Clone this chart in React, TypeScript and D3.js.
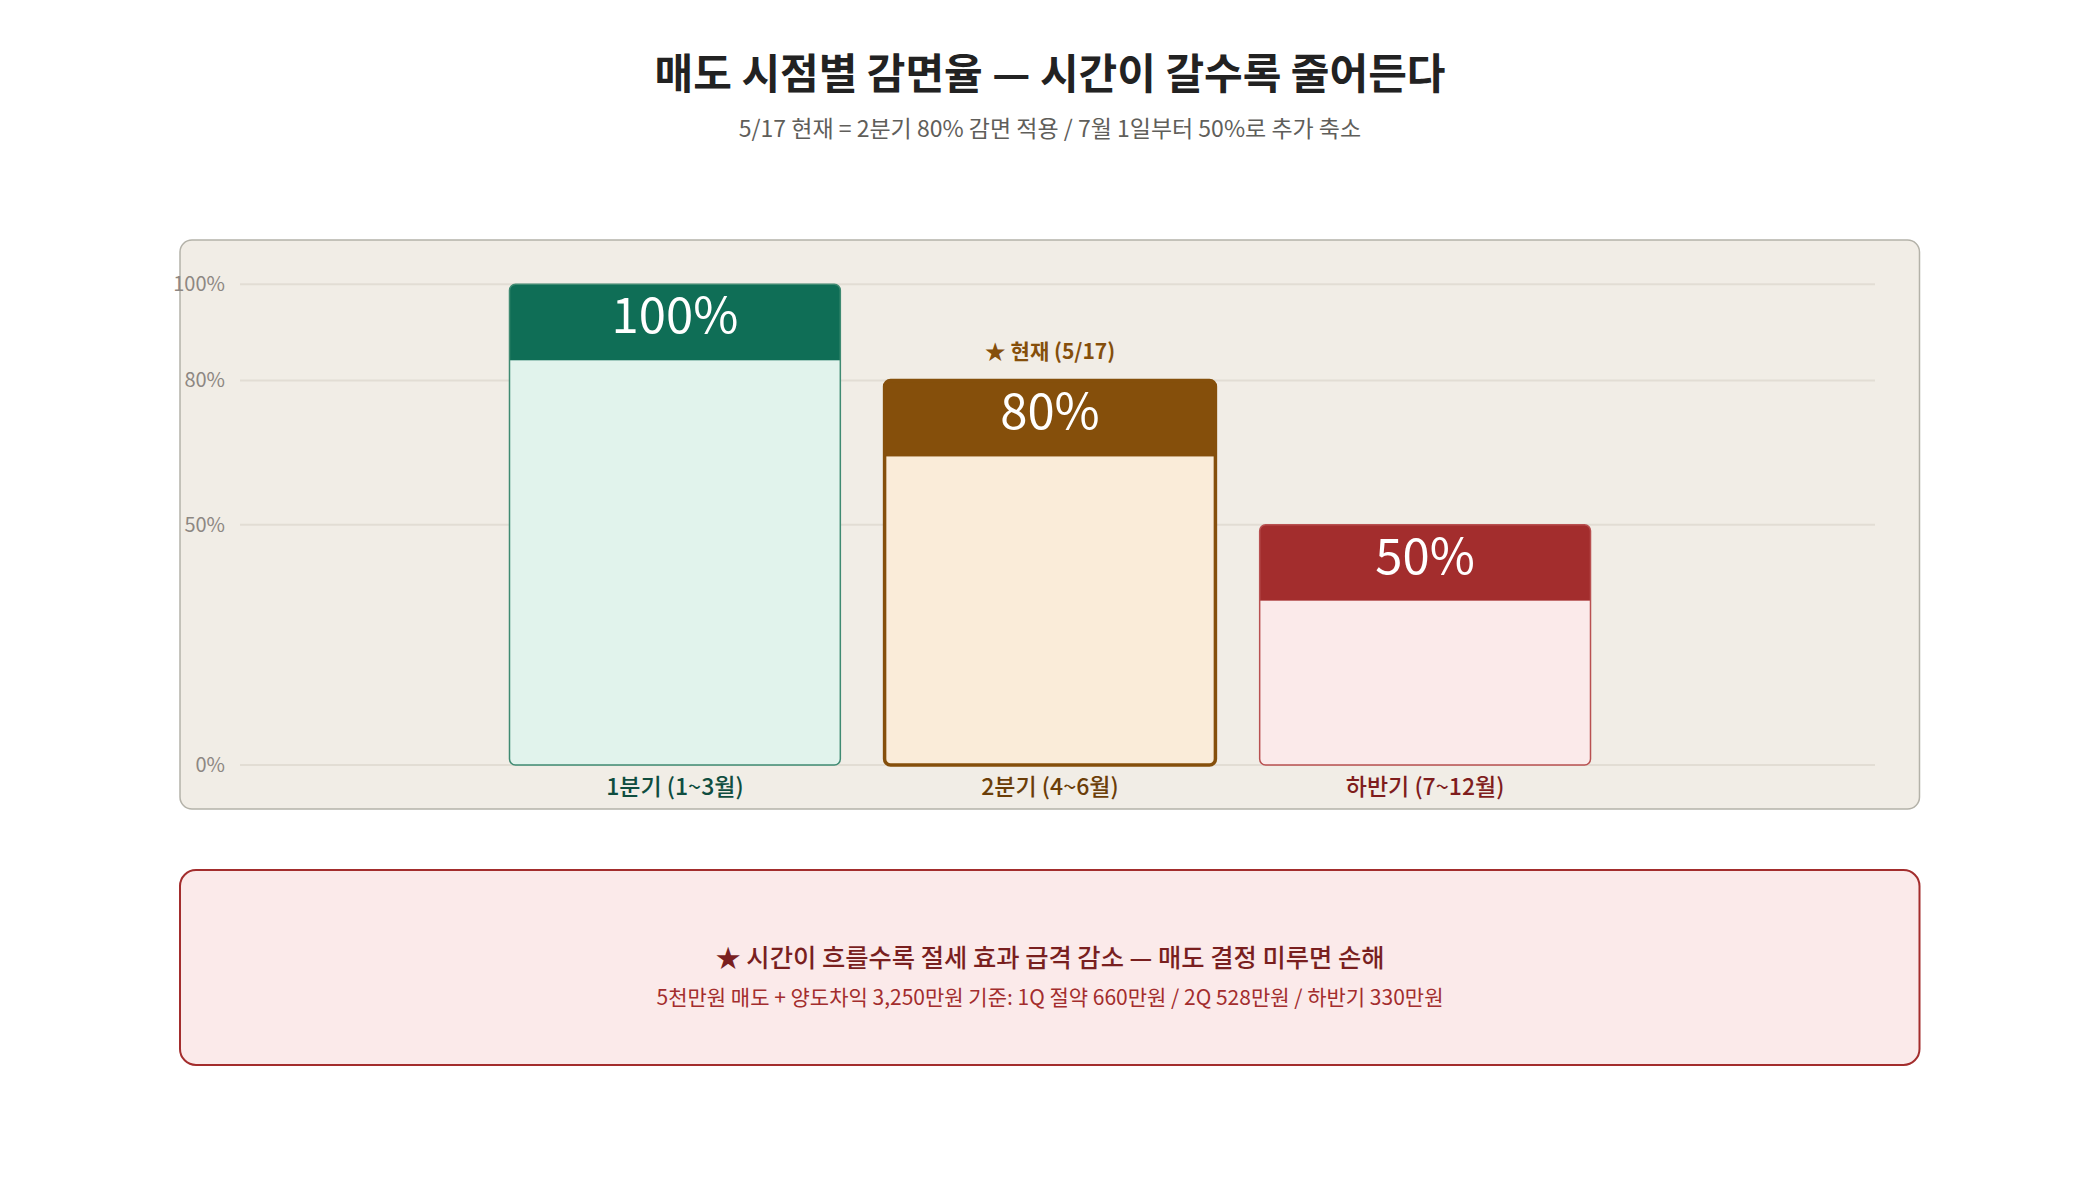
import React from "react";
import * as d3 from "d3";

const categories = ["1분기 (1~3월)", "2분기 (4~6월)", "하반기 (7~12월)"];
const rates = [100, 80, 50];
const rateLabels = ["100%", "80%", "50%"];
const yTicks = [0, 50, 80, 100];
const headerColors = ["#0f6e56", "#854f0b", "#a32d2d"];
const bodyColors = ["#e1f3ec", "#faecd9", "#fbeaea"];
const strokeColors = ["#3f8a72", "#854f0b", "#b85050"];
const strokeWidths = [1.5, 3.5, 1.5];
const labelColors = ["#0f4d3f", "#6b3e08", "#7f1d1d"];

const title = "매도 시점별 감면율 — 시간이 갈수록 줄어든다";
const subtitle = "5/17 현재 = 2분기 80% 감면 적용 / 7월 1일부터 50%로 추가 축소";
const currentMark = "★ 현재 (5/17)";
const noteTitle = "★ 시간이 흐를수록 절세 효과 급격 감소 — 매도 결정 미루면 손해";
const noteText = "5천만원 매도 + 양도차익 3,250만원 기준: 1Q 절약 660만원 / 2Q 528만원 / 하반기 330만원";

const W = 2100;
const H = 1200;
const FONT = "'Noto Sans CJK KR', 'Noto Sans', sans-serif";

export default function App() {
  const x = d3.scaleBand<string>().domain(categories).range([509.5, 1590.5]).paddingInner(0.118).paddingOuter(0);
  const y = d3.scaleLinear().domain([0, 100]).range([765, 284.3]);
  const headerH = 76;
  const bw = x.bandwidth();

  return (
    <div style={{ position: "fixed", left: 0, top: 0, width: W, height: H, background: "#fff" }}>
      <svg width={W} height={H} style={{ display: "block", fontFamily: FONT }}>
        <rect x={0} y={0} width={W} height={H} fill="#ffffff" />
        <text x={W / 2} y={89} textAnchor="middle" fontSize={42} fontWeight={700} fill="#222">{title}</text>
        <text x={W / 2} y={137} textAnchor="middle" fontSize={23} fill="#5f5e5a">{subtitle}</text>

        <rect x={180} y={240} width={1739.5} height={569} rx={12} fill="#f1ede6" stroke="#b4b2a9" strokeWidth={1.5} />

        {yTicks.map((t) => (
          <g key={t}>
            <line x1={240} x2={1875} y1={y(t)} y2={y(t)} stroke="#e2ddd4" strokeWidth={2} />
            <text x={225} y={y(t)} dy="0.35em" textAnchor="end" fontSize={20} fill="#8d8782">{t + "%"}</text>
          </g>
        ))}

        <defs>
          {categories.map((c, i) => (
            <clipPath id={"clip" + i} key={c}>
              <rect x={x(c)} y={y(rates[i])} width={bw} height={y(0) - y(rates[i])} rx={6} />
            </clipPath>
          ))}
        </defs>

        {categories.map((c, i) => {
          const x0 = x(c) as number;
          const top = y(rates[i]);
          const h = y(0) - top;
          return (
            <g key={c}>
              <rect x={x0} y={top} width={bw} height={h} rx={6} fill={bodyColors[i]} />
              <rect x={x0} y={top} width={bw} height={headerH} fill={headerColors[i]} clipPath={`url(#clip${i})`} />
              <rect x={x0} y={top} width={bw} height={h} rx={6} fill="none" stroke={strokeColors[i]} strokeWidth={strokeWidths[i]} />
              <text x={x0 + bw / 2} y={top + 49} textAnchor="middle" fontSize={49} fill="#ffffff">{rateLabels[i]}</text>
              <text x={x0 + bw / 2} y={y(0) + 30} textAnchor="middle" fontSize={23} fontWeight={500} fill={labelColors[i]}>{c}</text>
              {i === 1 && (
                <text x={x0 + bw / 2} y={top - 21} textAnchor="middle" fontSize={21} fontWeight={700} fill="#854f0b">{currentMark}</text>
              )}
            </g>
          );
        })}

        <rect x={180} y={870} width={1739.5} height={195} rx={16} fill="#fbeaea" stroke="#a32d2d" strokeWidth={2} />
        <text x={W / 2} y={967} textAnchor="middle" fontSize={25.3} fontWeight={500} fill="#791f1f">{noteTitle}</text>
        <text x={W / 2} y={1005} textAnchor="middle" fontSize={21} fill="#a32d2d">{noteText}</text>
      </svg>
    </div>
  );
}
